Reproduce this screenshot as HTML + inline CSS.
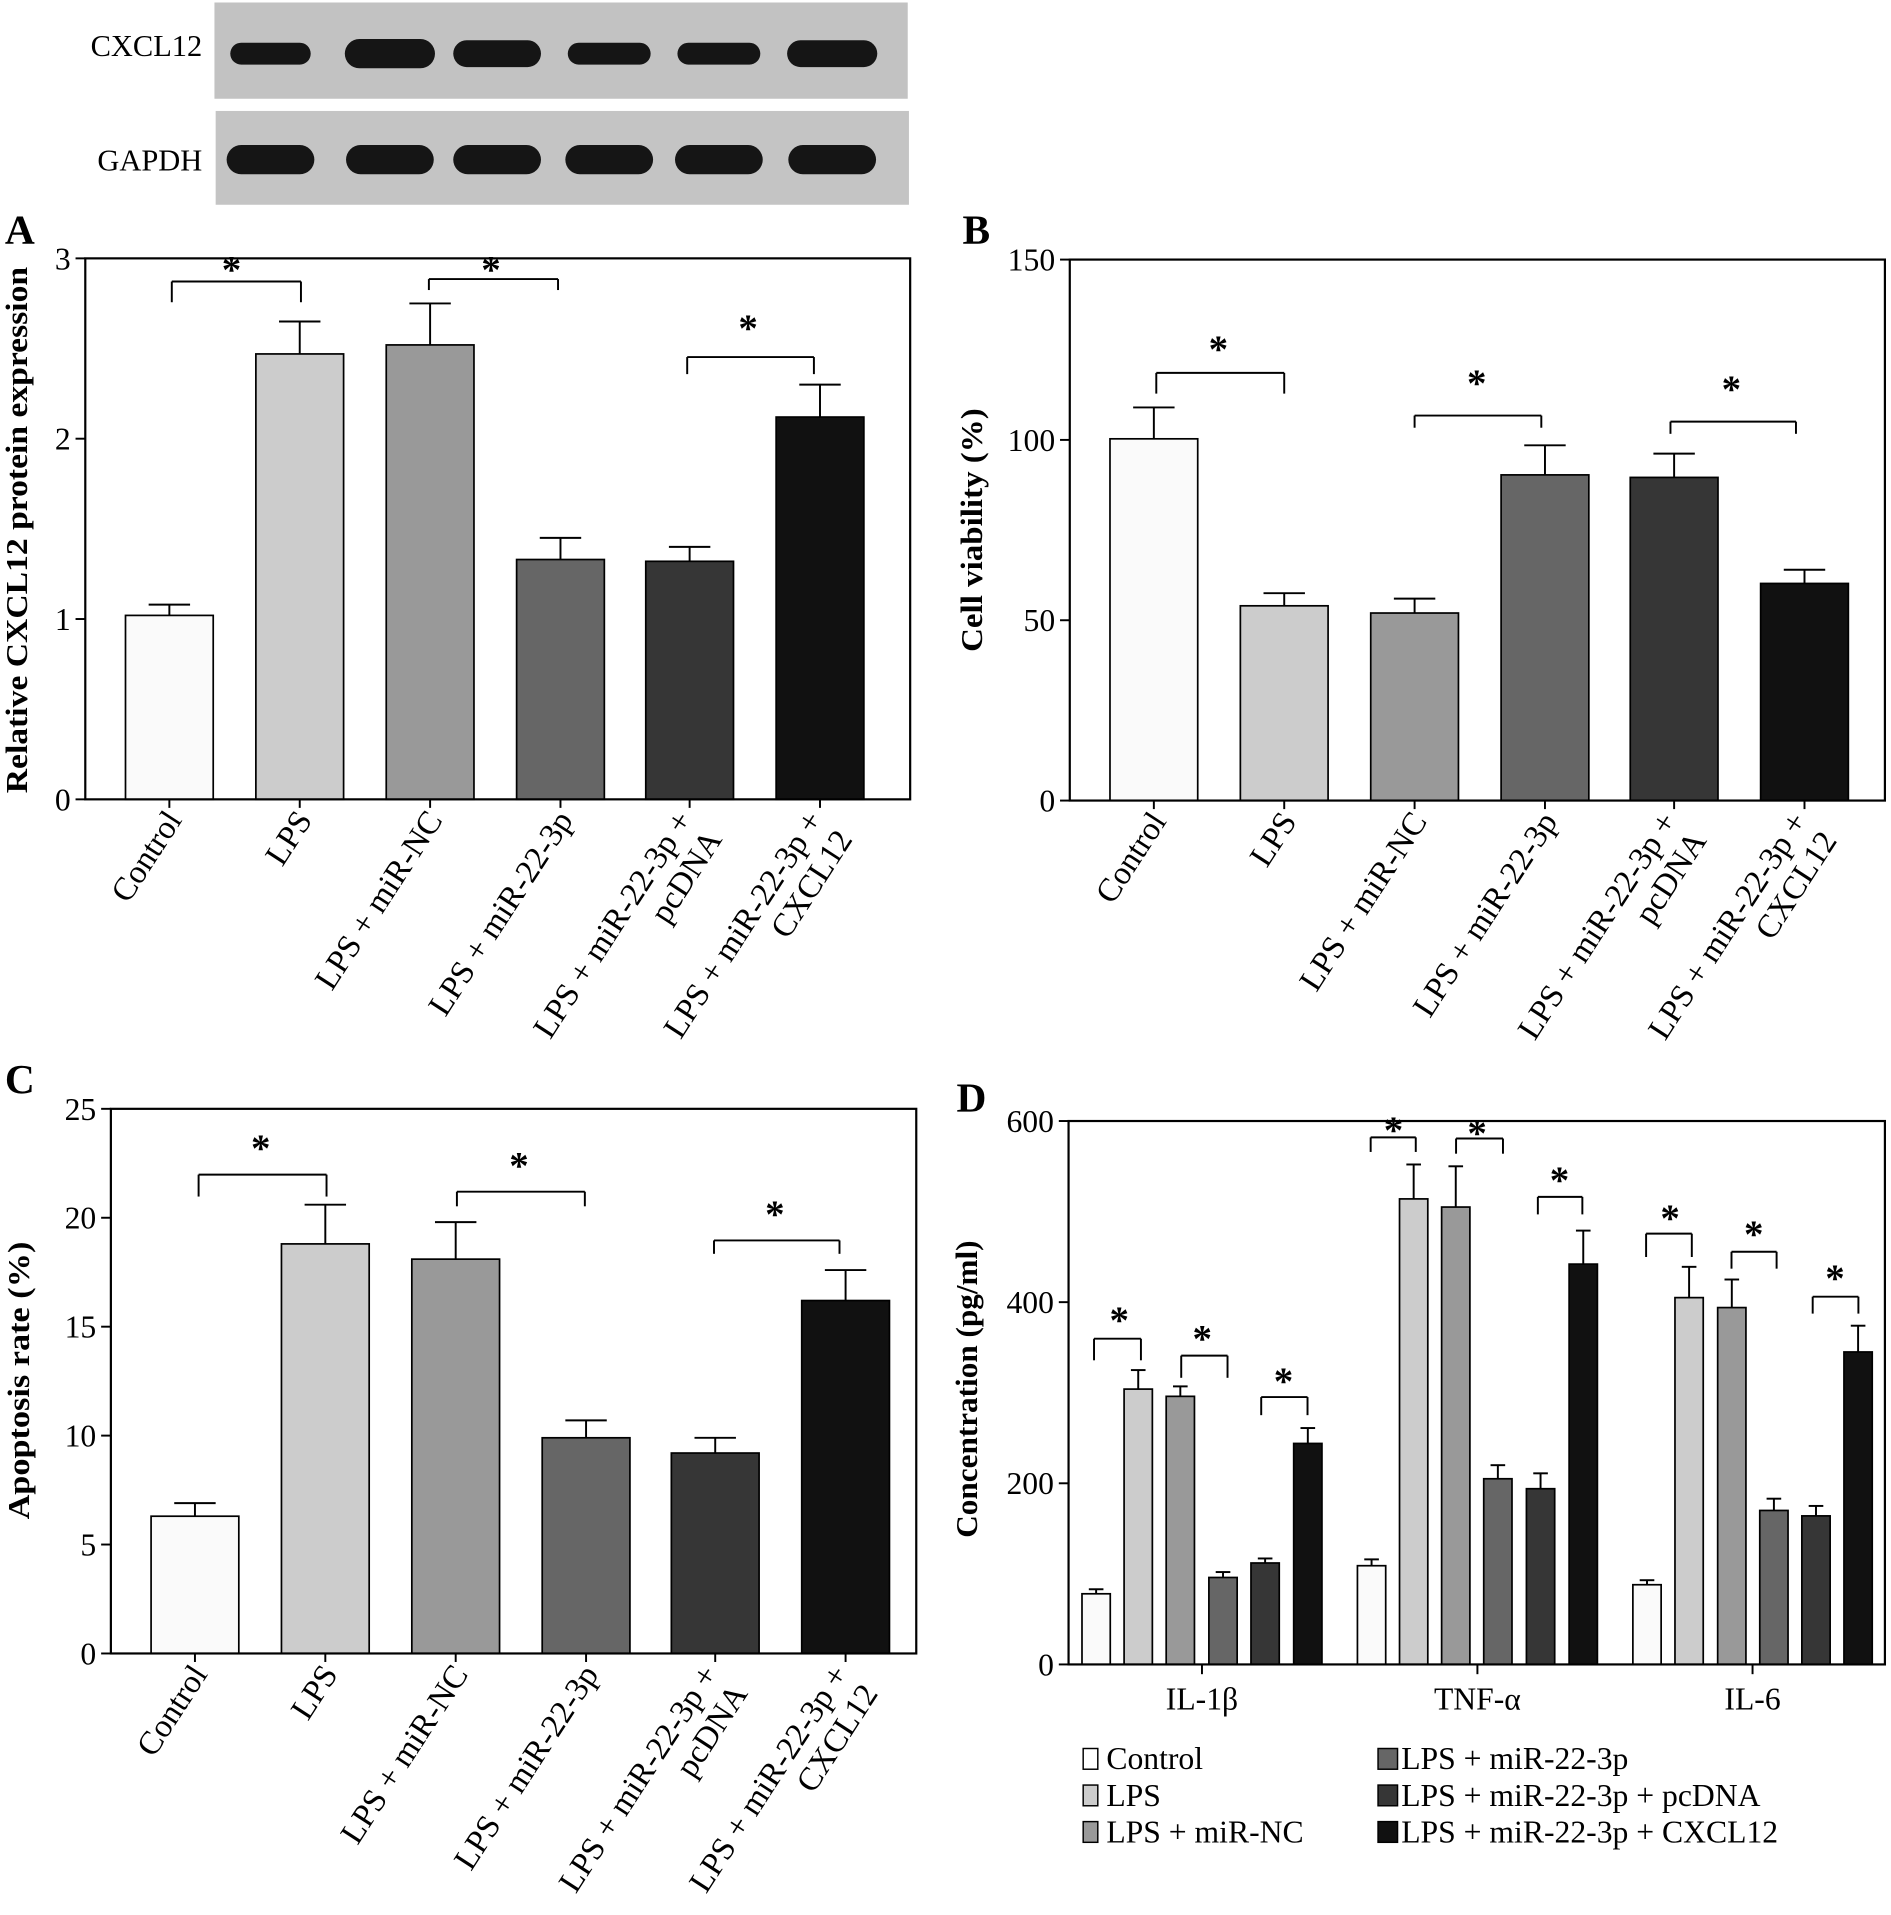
<!DOCTYPE html>
<html><head><meta charset="utf-8"><style>
html,body{margin:0;padding:0;background:#fff;}
svg{display:block;}
text{font-family:"Liberation Serif","DejaVu Serif",serif;fill:#000;}
</style></head><body>
<svg id="s" width="1891" height="1915" viewBox="0 0 1552 1571.6" xmlns="http://www.w3.org/2000/svg"></svg>
<script>
let h='';
const cols=['#fafafa','#cccccc','#999999','#666666','#363636','#111111'];
function L(x1,y1,x2,y2,w){h+=`<line x1="${x1}" y1="${y1}" x2="${x2}" y2="${y2}" stroke="#000" stroke-width="${w||1.6}"/>`;}
function T(x,y,t,a){h+=`<text x="${x}" y="${y}" ${a||''}>${t}</text>`;}
function R(x,y,w,hh,f){h+=`<rect x="${x}" y="${y}" width="${w}" height="${hh}" fill="${f}" stroke="#000" stroke-width="1.4"/>`;}
function star(x,y){T(x,y+12,'*','font-size="32" font-family="Liberation Sans" font-weight="bold" text-anchor="middle"');}
function br(x1,x2,y,d1,d2){L(x1,d1,x1,y);L(x1,y,x2,y);L(x2,y,x2,d2);}
/* blots */
h+='<rect x="176" y="2" width="569" height="79" fill="#c2c2c2"/>';
h+='<rect x="177" y="91" width="569" height="77" fill="#c4c4c4"/>';
[[222,66,18],[320,74,24],[408,72,22],[500,68,18],[590,68,18],[683,74,22]].forEach(b=>{h+=`<rect x="${b[0]-b[1]/2}" y="${44-b[2]/2}" width="${b[1]}" height="${b[2]}" rx="${b[2]/2}" fill="#151515"/>`;});
[222,320,408,500,590,683].forEach(c=>{h+=`<rect x="${c-36}" y="119" width="72" height="24" rx="12" fill="#151515"/>`;});
T(166,46,'CXCL12','font-size="25" text-anchor="end"');
T(166,140,'GAPDH','font-size="25" text-anchor="end"');
const cats=[['Control'],['LPS'],['LPS + miR-NC'],['LPS + miR-22-3p'],['LPS + miR-22-3p +','pcDNA'],['LPS + miR-22-3p +','CXCL12']];
function panel(o){
 const sc=(o.bot-o.top)/o.max, Y=v=>o.bot-v*sc;
 const rel=[33,140,247,354,460,567];
 rel.forEach((r,i)=>{const x=o.axL+r,w=72;R(x,Y(o.v[i]),w,o.v[i]*sc,cols[i]);const c=x+w/2;L(c,Y(o.v[i]),c,Y(o.e[i]));L(c-17,Y(o.e[i]),c+17,Y(o.e[i]));
  L(c,o.bot,c,o.bot+7);
  const lab=cats[i];
  if(lab.length==1){T(c+11,o.bot+17,lab[0],`font-size="27" text-anchor="end" transform="rotate(-57 ${c+11} ${o.bot+17})"`);}
  else{h+=`<text font-size="27" text-anchor="end" transform="translate(${c+3} ${o.bot+17}) rotate(-57)"><tspan x="0" y="0">${lab[0]}</tspan><tspan x="0" y="29">${lab[1]}</tspan></text>`;}
 });
 h+=`<rect x="${o.axL}" y="${o.top}" width="${o.axR-o.axL}" height="${o.bot-o.top}" fill="none" stroke="#000" stroke-width="1.8"/>`;
 o.t.forEach(t=>{L(o.axL-8,Y(t),o.axL,Y(t));T(o.axL-12,Y(t)+9,t,'font-size="26" text-anchor="end"');});
 o.b.forEach(b=>{br(b[0],b[1],b[2],b[3],b[3]);star(b[4],b[5]);});
 T(o.lx,o.ly,o.lab,`font-size="25" font-weight="bold" text-anchor="middle" textLength="${o.ll}" lengthAdjust="spacingAndGlyphs" transform="rotate(-90 ${o.lx} ${o.ly})"`);
 T(o.px,o.py,o.p,'font-size="34" font-weight="bold"');
}
panel({axL:70,axR:747,top:212,bot:656,max:3,t:[0,1,2,3],v:[1.02,2.47,2.52,1.33,1.32,2.12],e:[1.08,2.65,2.75,1.45,1.40,2.30],
 b:[[141,247,231,248,190,220],[352,458,229,238,403,220],[564,668,293,307,614,268]],lab:'Relative CXCL12 protein expression',lx:22,ly:435,ll:432,p:'A',px:4,py:200});
panel({axL:878,axR:1547,top:213,bot:657,max:150,t:[0,50,100,150],v:[100.3,54,52,90.3,89.6,60.2],e:[109,57.5,56,98.5,96.2,64],
 b:[[949,1054,306,323,1000,285],[1161,1265,341,351,1212,313],[1371,1474,346,356,1421,318]],lab:'Cell viability (%)',lx:806,ly:435,ll:200,p:'B',px:790,py:200});
panel({axL:91,axR:752,top:910,bot:1357,max:25,t:[0,5,10,15,20,25],v:[6.3,18.8,18.1,9.9,9.2,16.2],e:[6.9,20.6,19.8,10.7,9.9,17.6],
 b:[[163,268,964,982,214,941],[375,480,978,990,426,955],[586,689,1018,1029,636,995]],lab:'Apoptosis rate (%)',lx:24,ly:1133,ll:228,p:'C',px:4,py:897});
/* panel D */
(function(){
 const top=920,bot=1366,sc=(bot-top)/600,Y=v=>bot-v*sc,X=z=>774.5+z/2.026,ZY=z=>top+(z-212)*0.479;
 const lefts=[[230,300,370,441,511,582],[688,758,828,898,969,1040],[1146,1216,1287,1357,1427,1497]];
 const v=[[78,304,296,96,112,244],[109,514,505,205,194,442],[88,405,394,170,164,345]];
 const e=[[83,325,307,102,117,261],[116,552,550,220,211,479],[93,439,425,183,175,374]];
 lefts.forEach((g,gi)=>{g.forEach((z,i)=>{const x=X(z),w=23.2;R(x,Y(v[gi][i]),w,v[gi][i]*sc,cols[i]);const c=x+w/2;L(c,Y(v[gi][i]),c,Y(e[gi][i]));L(c-6,Y(e[gi][i]),c+6,Y(e[gi][i]));});
  const gc=(X(g[0])+X(g[5])+23.2)/2;L(gc,bot,gc,bot+8);
  T(gc,1403,['IL-1β','TNF-α','IL-6'][gi],'font-size="26" text-anchor="middle"');});
 h+=`<rect x="877" y="${top}" width="670" height="${bot-top}" fill="none" stroke="#000" stroke-width="1.8"/>`;
 [0,200,400,600].forEach(t=>{L(869,Y(t),877,Y(t));T(865,Y(t)+9,t,'font-size="26" text-anchor="end"');});
 [[250,328,585,622,292,550],[395,472,614,652,430,582],[528,605,685,716,565,655],[710,785,240,265,748,225],[852,930,242,268,887,230],[988,1062,342,372,1024,310],[1168,1244,405,445,1208,375],[1310,1385,436,465,1347,403],[1445,1521,513,542,1482,478]].forEach(b=>{br(X(b[0]),X(b[1]),ZY(b[2]),ZY(b[3]),ZY(b[3]));star(X(b[4]),ZY(b[5]));});
 T(802,1140,'Concentration (pg/ml)','font-size="25" font-weight="bold" text-anchor="middle" textLength="244" lengthAdjust="spacingAndGlyphs" transform="rotate(-90 802 1140)"');
 T(785,912,'D','font-size="34" font-weight="bold"');
 const leg=[[889,1452,'Control',0],[889,1482,'LPS',1],[889,1512,'LPS + miR-NC',2],[1131,1452,'LPS + miR-22-3p',3],[1131,1482,'LPS + miR-22-3p + pcDNA',4],[1131,1512,'LPS + miR-22-3p + CXCL12',5]];
 leg.forEach(l=>{h+=`<rect x="${l[0]}" y="${l[1]-17}" width="${l[3]<3?12:16}" height="17" fill="${l[3]==0?'#fff':cols[l[3]]}" stroke="#000" stroke-width="1.2"/>`;T(l[0]+19,l[1],l[2],'font-size="26"');});
})();
document.getElementById('s').innerHTML=h;
</script>
</body></html>
